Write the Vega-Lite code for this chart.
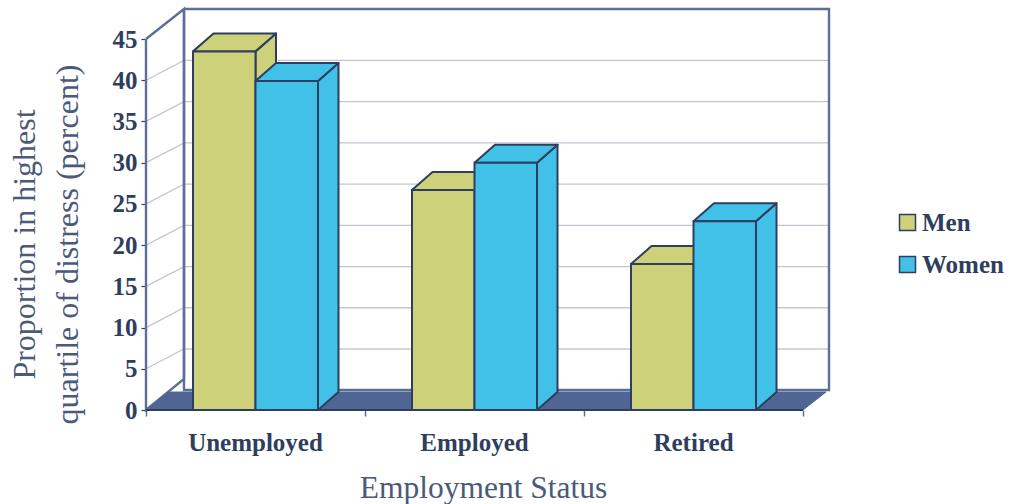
{"$schema":"https://vega.github.io/schema/vega-lite/v6.json","width":683,"height":401,"autosize":{"type":"none"},"padding":{"left":146,"top":9,"right":196,"bottom":94},"background":"white","config":{"view":{"stroke":null},"font":"Liberation Serif"},"datasets":{"bars":[{"status":"Unemployed","sex":"Men","value":43.5},{"status":"Unemployed","sex":"Women","value":39.9},{"status":"Employed","sex":"Men","value":26.7},{"status":"Employed","sex":"Women","value":30.0},{"status":"Retired","sex":"Men","value":17.7},{"status":"Retired","sex":"Women","value":22.9}],"frame":[{"part":"back","k":1,"pos":0.1735,"level":48.64},{"part":"back","k":2,"pos":3.1187,"level":48.64},{"part":"back","k":3,"pos":3.1187,"level":2.43},{"part":"back","k":4,"pos":0.1735,"level":2.43},{"part":"back","k":5,"pos":0.1735,"level":48.64},{"part":"left","k":1,"pos":0,"level":45},{"part":"left","k":2,"pos":0.1735,"level":48.64},{"part":"left","k":3,"pos":0.1735,"level":3.76},{"part":"left","k":4,"pos":0,"level":0},{"part":"left","k":5,"pos":0,"level":45}],"floor":[{"k":1,"pos":0,"level":0},{"k":2,"pos":3,"level":0},{"k":3,"pos":3.105,"level":2.18},{"k":4,"pos":0.1,"level":2.18},{"k":5,"pos":0,"level":0}],"front":[{"k":1,"pos":0,"level":0},{"k":2,"pos":3,"level":0}],"grid":[{"g":5,"k":1,"pos":0,"level":5},{"g":5,"k":2,"pos":0.1735,"level":7.4},{"g":5,"k":3,"pos":3.1187,"level":7.4},{"g":10,"k":1,"pos":0,"level":10},{"g":10,"k":2,"pos":0.1735,"level":12.4},{"g":10,"k":3,"pos":3.1187,"level":12.4},{"g":15,"k":1,"pos":0,"level":15},{"g":15,"k":2,"pos":0.1735,"level":17.4},{"g":15,"k":3,"pos":3.1187,"level":17.4},{"g":20,"k":1,"pos":0,"level":20},{"g":20,"k":2,"pos":0.1735,"level":22.4},{"g":20,"k":3,"pos":3.1187,"level":22.4},{"g":25,"k":1,"pos":0,"level":25},{"g":25,"k":2,"pos":0.1735,"level":27.4},{"g":25,"k":3,"pos":3.1187,"level":27.4},{"g":30,"k":1,"pos":0,"level":30},{"g":30,"k":2,"pos":0.1735,"level":32.4},{"g":30,"k":3,"pos":3.1187,"level":32.4},{"g":35,"k":1,"pos":0,"level":35},{"g":35,"k":2,"pos":0.1735,"level":37.4},{"g":35,"k":3,"pos":3.1187,"level":37.4},{"g":40,"k":1,"pos":0,"level":40},{"g":40,"k":2,"pos":0.1735,"level":42.4},{"g":40,"k":3,"pos":3.1187,"level":42.4}],"faces":[{"f":"a1","sex":"Men","k":1,"pos":0.5,"level":43.5},{"f":"a1","sex":"Men","k":2,"pos":0.5936,"level":45.68},{"f":"a1","sex":"Men","k":3,"pos":0.5936,"level":2.18},{"f":"a1","sex":"Men","k":4,"pos":0.5,"level":0},{"f":"a1","sex":"Men","k":5,"pos":0.5,"level":43.5},{"f":"a2","sex":"Men","k":1,"pos":0.2146,"level":43.5},{"f":"a2","sex":"Men","k":2,"pos":0.5,"level":43.5},{"f":"a2","sex":"Men","k":3,"pos":0.5936,"level":45.68},{"f":"a2","sex":"Men","k":4,"pos":0.3082,"level":45.68},{"f":"a2","sex":"Men","k":5,"pos":0.2146,"level":43.5},{"f":"b1","sex":"Men","k":1,"pos":1.5,"level":26.7},{"f":"b1","sex":"Men","k":2,"pos":1.5936,"level":28.88},{"f":"b1","sex":"Men","k":3,"pos":1.5936,"level":2.18},{"f":"b1","sex":"Men","k":4,"pos":1.5,"level":0},{"f":"b1","sex":"Men","k":5,"pos":1.5,"level":26.7},{"f":"b2","sex":"Men","k":1,"pos":1.2146,"level":26.7},{"f":"b2","sex":"Men","k":2,"pos":1.5,"level":26.7},{"f":"b2","sex":"Men","k":3,"pos":1.5936,"level":28.88},{"f":"b2","sex":"Men","k":4,"pos":1.3082,"level":28.88},{"f":"b2","sex":"Men","k":5,"pos":1.2146,"level":26.7},{"f":"c1","sex":"Men","k":1,"pos":2.5,"level":17.7},{"f":"c1","sex":"Men","k":2,"pos":2.5936,"level":19.88},{"f":"c1","sex":"Men","k":3,"pos":2.5936,"level":2.18},{"f":"c1","sex":"Men","k":4,"pos":2.5,"level":0},{"f":"c1","sex":"Men","k":5,"pos":2.5,"level":17.7},{"f":"c2","sex":"Men","k":1,"pos":2.2146,"level":17.7},{"f":"c2","sex":"Men","k":2,"pos":2.5,"level":17.7},{"f":"c2","sex":"Men","k":3,"pos":2.5936,"level":19.88},{"f":"c2","sex":"Men","k":4,"pos":2.3082,"level":19.88},{"f":"c2","sex":"Men","k":5,"pos":2.2146,"level":17.7},{"f":"d1","sex":"Women","k":1,"pos":0.7854,"level":39.9},{"f":"d1","sex":"Women","k":2,"pos":0.879,"level":42.08},{"f":"d1","sex":"Women","k":3,"pos":0.879,"level":2.18},{"f":"d1","sex":"Women","k":4,"pos":0.7854,"level":0},{"f":"d1","sex":"Women","k":5,"pos":0.7854,"level":39.9},{"f":"d2","sex":"Women","k":1,"pos":0.5,"level":39.9},{"f":"d2","sex":"Women","k":2,"pos":0.7854,"level":39.9},{"f":"d2","sex":"Women","k":3,"pos":0.879,"level":42.08},{"f":"d2","sex":"Women","k":4,"pos":0.5936,"level":42.08},{"f":"d2","sex":"Women","k":5,"pos":0.5,"level":39.9},{"f":"e1","sex":"Women","k":1,"pos":1.7854,"level":30.0},{"f":"e1","sex":"Women","k":2,"pos":1.879,"level":32.18},{"f":"e1","sex":"Women","k":3,"pos":1.879,"level":2.18},{"f":"e1","sex":"Women","k":4,"pos":1.7854,"level":0},{"f":"e1","sex":"Women","k":5,"pos":1.7854,"level":30.0},{"f":"e2","sex":"Women","k":1,"pos":1.5,"level":30.0},{"f":"e2","sex":"Women","k":2,"pos":1.7854,"level":30.0},{"f":"e2","sex":"Women","k":3,"pos":1.879,"level":32.18},{"f":"e2","sex":"Women","k":4,"pos":1.5936,"level":32.18},{"f":"e2","sex":"Women","k":5,"pos":1.5,"level":30.0},{"f":"g1","sex":"Women","k":1,"pos":2.7854,"level":22.9},{"f":"g1","sex":"Women","k":2,"pos":2.879,"level":25.08},{"f":"g1","sex":"Women","k":3,"pos":2.879,"level":2.18},{"f":"g1","sex":"Women","k":4,"pos":2.7854,"level":0},{"f":"g1","sex":"Women","k":5,"pos":2.7854,"level":22.9},{"f":"g2","sex":"Women","k":1,"pos":2.5,"level":22.9},{"f":"g2","sex":"Women","k":2,"pos":2.7854,"level":22.9},{"f":"g2","sex":"Women","k":3,"pos":2.879,"level":25.08},{"f":"g2","sex":"Women","k":4,"pos":2.5936,"level":25.08},{"f":"g2","sex":"Women","k":5,"pos":2.5,"level":22.9}]},"resolve":{"scale":{"x":"independent"},"axis":{"x":"independent"}},"layer":[{"layer":[{"data":{"name":"grid"},"mark":{"type":"line","stroke":"#c6c6d2","strokeWidth":1.3},"encoding":{"x":{"field":"pos","type":"quantitative","scale":{"domain":[0,3.1187],"nice":false,"zero":false},"axis":{"values":[0,1,2,3],"labels":false,"title":null,"domain":false,"grid":false,"tickColor":"#5a7099","tickSize":6,"tickWidth":1.5,"orient":"bottom"}},"y":{"field":"level","type":"quantitative","scale":{"domain":[0,48.64],"nice":false,"zero":false},"axis":{"values":[0,5,10,15,20,25,30,35,40,45],"title":["Proportion in highest","quartile of distress (percent)"],"titleFont":"Liberation Serif","titleFontSize":32,"titleFontWeight":"normal","titleColor":"#4a5a78","titleLineHeight":43,"titleAngle":270,"titleAlign":"center","titleBaseline":"alphabetic","titleX":-112,"titleY":235,"labelFont":"Liberation Serif","labelFontSize":25,"labelFontWeight":"bold","labelColor":"#2f3e5e","labelPadding":4,"domain":false,"grid":false,"tickColor":"#2f3e5e","tickSize":5,"tickWidth":1.2,"orient":"left"}},"detail":{"field":"g"},"order":{"field":"k"}}},{"data":{"name":"frame"},"mark":{"type":"line","stroke":"#5a7099","strokeWidth":2.4},"encoding":{"x":{"field":"pos","type":"quantitative"},"y":{"field":"level","type":"quantitative"},"detail":{"field":"part"},"order":{"field":"k"}}},{"data":{"name":"floor"},"mark":{"type":"line","fill":"#4f6593","stroke":"#4f6593","strokeWidth":1},"encoding":{"x":{"field":"pos","type":"quantitative"},"y":{"field":"level","type":"quantitative"},"order":{"field":"k"}}},{"data":{"name":"front"},"mark":{"type":"line","stroke":"#2f3e5e","strokeWidth":2.2},"encoding":{"x":{"field":"pos","type":"quantitative"},"y":{"field":"level","type":"quantitative"},"order":{"field":"k"}}},{"data":{"name":"faces"},"mark":{"type":"line","stroke":"#2f3e5e","strokeWidth":2,"strokeJoin":"round"},"encoding":{"x":{"field":"pos","type":"quantitative"},"y":{"field":"level","type":"quantitative"},"detail":{"field":"f"},"order":{"field":"k"},"fill":{"field":"sex","type":"nominal","scale":{"domain":["Men","Women"],"range":["#cdd27a","#41c0e8"]},"legend":{"title":null,"orient":"none","legendX":749,"legendY":201,"symbolType":"square","symbolSize":256,"symbolStrokeColor":"#2f3e5e","symbolStrokeWidth":1.5,"labelFont":"Liberation Serif","labelFontSize":25,"labelFontWeight":"bold","labelColor":"#2f3e5e","rowPadding":16,"labelOffset":2}}}}]},{"data":{"name":"bars"},"mark":{"type":"bar","stroke":"#2f3e5e","strokeWidth":2},"encoding":{"x":{"field":"status","type":"nominal","sort":["Unemployed","Employed","Retired"],"scale":{"range":[0,657],"paddingInner":0,"paddingOuter":0},"axis":{"title":"Employment Status","titleFont":"Liberation Serif","titleFontSize":31.5,"titleFontWeight":"normal","titleColor":"#4a5a78","titleX":337,"titleY":87,"titleBaseline":"alphabetic","titleAlign":"center","labelAngle":0,"labelFont":"Liberation Serif","labelFontSize":25,"labelFontWeight":"bold","labelColor":"#2f3e5e","labelPadding":20,"domain":false,"ticks":false,"orient":"bottom"}},"xOffset":{"field":"sex","type":"nominal","scale":{"paddingOuter":0.752,"paddingInner":0}},"y":{"field":"value","type":"quantitative","stack":null},"fill":{"field":"sex","type":"nominal"}}}]}
